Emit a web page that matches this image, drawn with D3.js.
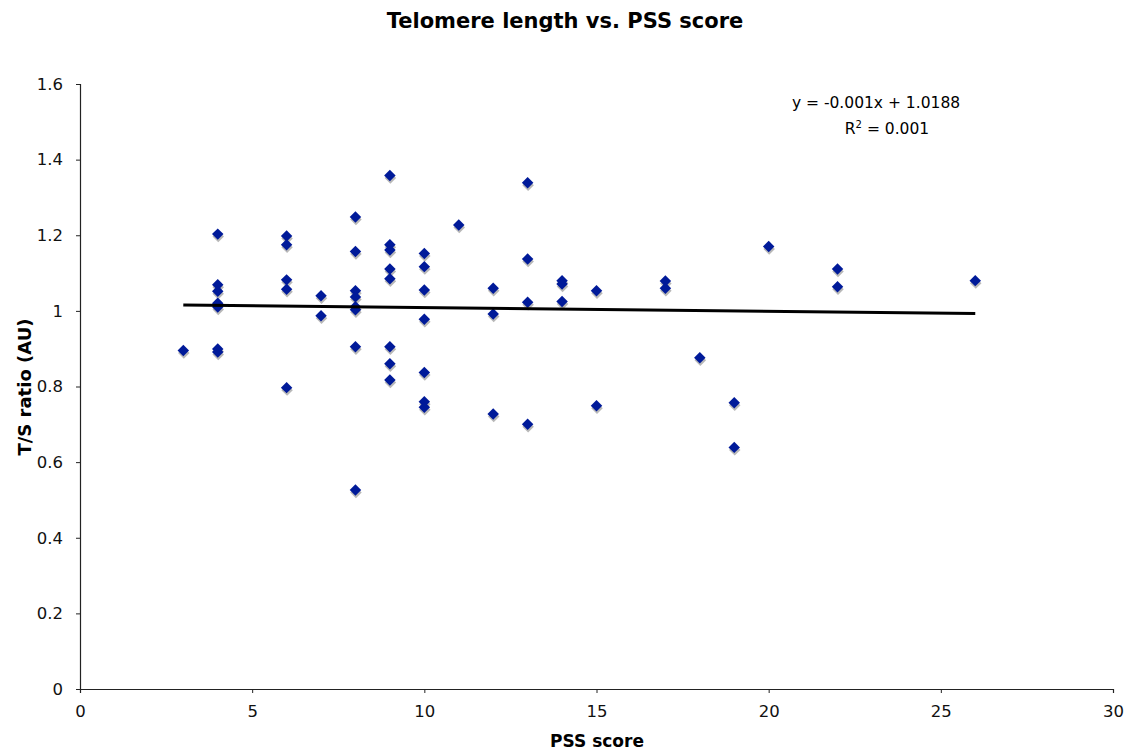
<!DOCTYPE html>
<html>
<head>
<meta charset="utf-8">
<script src="https://cdn.jsdelivr.net/npm/d3@7"></script>
<style>
  body { margin: 0; background: #fff; }
  text { font-family: "DejaVu Sans", Verdana, sans-serif; }
</style>
</head>
<body>
<div id="chart"></div>
<script>
// PSS score (x) and T/S ratio (y)
const pssScores = [3, 4, 4, 4, 4, 4, 4, 4,
  6, 6, 6, 6, 6, 7, 7,
  8, 8, 8, 8, 8, 8, 8, 8,
  9, 9, 9, 9, 9, 9, 9, 9,
  10, 10, 10, 10, 10, 10, 10,
  11, 12, 12, 12, 13, 13, 13, 13,
  14, 14, 14, 15, 15, 17, 17, 18, 19, 19, 20, 22, 22, 26];
const tsRatios = [0.895, 1.203, 1.069, 1.052, 1.02, 1.01, 0.899, 0.891,
  1.198, 1.175, 1.082, 1.057, 0.797, 1.040, 0.987,
  1.248, 1.157, 1.053, 1.037, 1.011, 1.003, 0.905, 0.526,
  1.358, 1.175, 1.161, 1.111, 1.085, 0.905, 0.860, 0.817,
  1.152, 1.117, 1.055, 0.978, 0.837, 0.760, 0.745,
  1.227, 1.060, 0.992, 0.727, 1.339, 1.137, 1.023, 0.700,
  1.080, 1.071, 1.025, 1.053, 0.749, 1.079, 1.060, 0.876, 0.757, 0.639, 1.170, 1.111, 1.064, 1.080];

const xTicks = [0, 5, 10, 15, 20, 25, 30];
const yTicks = [0, 0.2, 0.4, 0.6, 0.8, 1, 1.2, 1.4, 1.6];

// trendline y = -0.001x + 1.0188 over the data range
const trendSlope = -0.001;
const trendIntercept = 1.0188;
const trendRange = [3, 26];

const width = 1131, height = 755;
const margin = { left: 80, right: 18, top: 84, bottom: 66 };

const svg = d3.select("#chart").append("svg")
  .attr("width", width)
  .attr("height", height);

const x = d3.scaleLinear().domain([0, 30]).range([margin.left, width - margin.right]);
const y = d3.scaleLinear().domain([0, 1.6]).range([height - margin.bottom, margin.top]);

// axes
const xAxis = svg.append("g")
  .attr("transform", `translate(0,${height - margin.bottom})`)
  .call(d3.axisBottom(x).tickValues(xTicks).tickSize(4).tickPadding(12).tickFormat(d3.format("d")));
const yAxis = svg.append("g")
  .attr("transform", `translate(${margin.left},0)`)
  .call(d3.axisLeft(y).tickValues(yTicks).tickSize(4).tickPadding(13).tickFormat(d => d === 0 || d === 1 ? d : d3.format(".1f")(d)));

[xAxis, yAxis].forEach(a => {
  a.select(".domain").attr("stroke", "#222").attr("stroke-width", 1.2);
  a.selectAll(".tick line").attr("stroke", "#222");
  a.selectAll(".tick text")
    .attr("fill", "#111")
    .style("font-size", "16.5px")
    .style("font-family", "'DejaVu Sans', Verdana, sans-serif");
});

// title and axis labels
svg.append("text")
  .attr("x", 565).attr("y", 28)
  .attr("text-anchor", "middle")
  .style("font-size", "21px").style("font-weight", "bold")
  .text("Telomere length vs. PSS score");

svg.append("text")
  .attr("x", 597).attr("y", 747)
  .attr("text-anchor", "middle")
  .style("font-size", "17px").style("font-weight", "bold")
  .text("PSS score");

svg.append("text")
  .attr("transform", `translate(31,387) rotate(-90)`)
  .attr("text-anchor", "middle")
  .style("font-size", "18px").style("font-weight", "bold")
  .text("T/S ratio (AU)");

// points: shadow then diamond
const points = pssScores.map((d, i) => ({ pss: d, ts: tsRatios[i] }));
const diamond = d3.symbol().type(d3.symbolDiamond2).size(84);

svg.append("g").selectAll("path")
  .data(points)
  .enter().append("path")
  .attr("d", diamond)
  .attr("transform", d => `translate(${x(d.pss) + 0.5},${y(d.ts) + 2.5})`)
  .attr("fill", "#9a9a9a")
  .attr("opacity", 0.7);

svg.append("g").selectAll("path")
  .data(points)
  .enter().append("path")
  .attr("d", diamond)
  .attr("transform", d => `translate(${x(d.pss)},${y(d.ts)})`)
  .attr("fill", "#001a99");

// trendline
svg.append("line")
  .attr("x1", x(trendRange[0])).attr("y1", y(trendSlope * trendRange[0] + trendIntercept))
  .attr("x2", x(trendRange[1])).attr("y2", y(trendSlope * trendRange[1] + trendIntercept))
  .attr("stroke", "#000")
  .attr("stroke-width", 3);

// equation label
svg.append("text")
  .attr("x", 876).attr("y", 108)
  .attr("text-anchor", "middle")
  .style("font-size", "15.5px")
  .text("y = -0.001x + 1.0188");

const r2 = svg.append("text")
  .attr("x", 887).attr("y", 134)
  .attr("text-anchor", "middle")
  .style("font-size", "15.5px");
r2.append("tspan").text("R");
r2.append("tspan").attr("dy", -6).style("font-size", "10px").text("2");
r2.append("tspan").attr("dy", 6).text(" = 0.001");
</script>
</body>
</html>
